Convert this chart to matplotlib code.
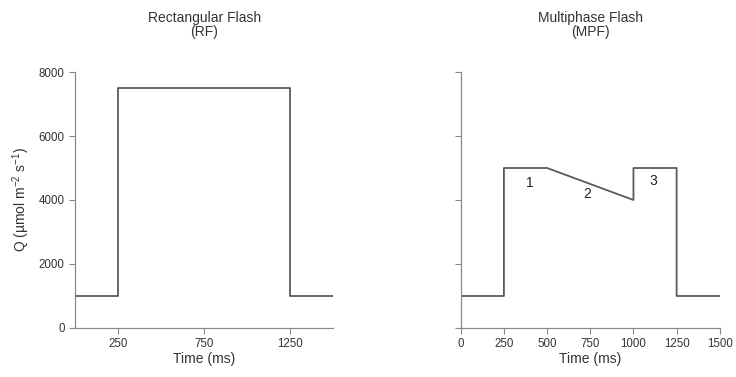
import matplotlib.pyplot as plt

plt.rcParams['font.family'] = ['Liberation Sans', 'DejaVu Sans']
plt.rcParams['mathtext.default'] = 'regular'

# rectangular flash
rf_t = [0, 250, 250, 1250, 1250, 1500]
rf_q = [1000, 1000, 7500, 7500, 1000, 1000]
# multiphase flash
mpf_t = [0, 250, 250, 500, 1000, 1000, 1250, 1250, 1500]
mpf_q = [1000, 1000, 5000, 5000, 4000, 5000, 5000, 1000, 1000]
phase_labels = ['1', '2', '3']
phase_t = [400, 730, 1112]
phase_q = [4530, 4190, 4600]

yticks = [0, 2000, 4000, 6000, 8000]
line_col = '#5a5a5a'
axis_col = '#8a8a8a'
text_col = '#333333'

fig = plt.figure(figsize=(7.36, 3.77), dpi=100)
ax1 = fig.add_axes([0.102, 0.130, 0.351, 0.679])
ax2 = fig.add_axes([0.626, 0.130, 0.352, 0.679])

ax1.plot(rf_t, rf_q, color=line_col, lw=1.3)
ax2.plot(mpf_t, mpf_q, color=line_col, lw=1.3)
for lab, t, q in zip(phase_labels, phase_t, phase_q):
    ax2.text(t, q, lab, fontsize=10, color='#222222', ha='center', va='center')

for ax in (ax1, ax2):
    ax.set_xlim(0, 1500)
    ax.set_ylim(0, 8000)
    ax.set_yticks(yticks)
    for s in ('top', 'right'):
        ax.spines[s].set_visible(False)
    for s in ('left', 'bottom'):
        ax.spines[s].set_color(axis_col)
        ax.spines[s].set_linewidth(0.9)
    ax.tick_params(colors=axis_col, labelcolor=text_col, labelsize=8.3, length=4, width=0.8)
    ax.set_xlabel('Time (ms)', fontsize=10, color=text_col, labelpad=1)

ax1.set_xticks([250, 750, 1250])
ax2.set_xticks([0, 250, 500, 750, 1000, 1250, 1500])
ax2.set_yticklabels([])

ax1.set_ylabel('Q (µmol m$^{-2}$ s$^{-1}$)', fontsize=10, color=text_col, labelpad=5)
ax1.set_title('Rectangular Flash\n(RF)', fontsize=10, color=text_col, pad=26, linespacing=1.0)
ax2.set_title('Multiphase Flash\n(MPF)', fontsize=10, color=text_col, pad=26, linespacing=1.0)

fig.savefig('out.png', dpi=100)
